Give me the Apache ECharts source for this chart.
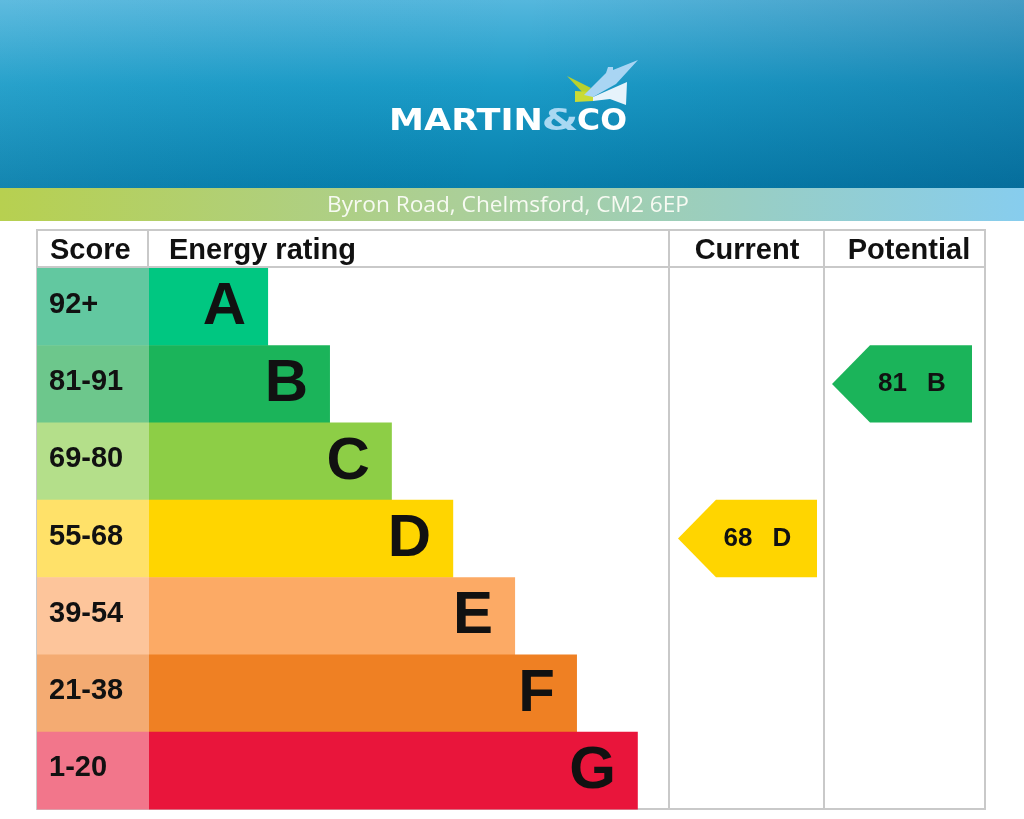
<!DOCTYPE html>
<html>
<head>
<meta charset="utf-8">
<script src="https://cdn.jsdelivr.net/npm/echarts@6/dist/echarts.min.js"></script>
<style>
html,body{margin:0;padding:0;background:#fff;}
#chart{width:1024px;height:819px;}
</style>
</head>
<body>
<div id="chart"></div>
<script>
// ---- data ----
const bands = ['A', 'B', 'C', 'D', 'E', 'F', 'G'];
const scoreRanges = ['92+', '81-91', '69-80', '55-68', '39-54', '21-38', '1-20'];
// bar length as % of the "Energy rating" column width
const barLengths = [22.9, 34.8, 46.7, 58.5, 70.4, 82.3, 94.0];
const barColors = ['#00c781', '#1bb45a', '#8dce46', '#ffd500', '#fcaa65', '#ef8023', '#e9153b'];
const scoreColors = ['#62c8a0', '#6dc78c', '#b4df8a', '#ffe169', '#fdc59b', '#f4ab72', '#f2768b'];
const headerLabels = ['Score', 'Energy rating', 'Current', 'Potential'];
const assessments = ['Current', 'Potential'];
const assessmentScores = [68, 81];
const assessmentBands = ['D', 'B'];
const title = 'Byron Road, Chelmsford, CM2 6EP';

// ---- layout ----
const TABLE = { left: 37, right: 985, top: 230, head: 267, bottom: 809 };
const COLS = { score: 148, current: 669, potential: 824 };
const ARROW_X = [[678, 817], [832, 972]];
const FONT = '"Liberation Sans", Arial, sans-serif';

const chart = echarts.init(document.getElementById('chart'));

const bandData = bands.map((b, i) => [barLengths[i], i]);
const arrowData = assessments.map((a, i) => [bands.indexOf(assessmentBands[i]), assessmentScores[i], i]);

const lineStyle = { stroke: '#c9c9c9', lineWidth: 2 };

const option = {
  animation: false,
  backgroundColor: '#ffffff',
  grid: { left: 149, top: 268, width: 520, height: 541, containLabel: false },
  xAxis: { type: 'value', min: 0, max: 100, show: false },
  yAxis: { type: 'category', data: bands, inverse: true, show: false },
  graphic: [
    // header background
    { type: 'rect', z: 0, shape: { x: 0, y: 0, width: 1024, height: 188 },
      style: { fill: new echarts.graphic.LinearGradient(0, 0, 0, 1, [
        { offset: 0, color: '#55b7dd' }, { offset: 0.45, color: '#1b9cc8' }, { offset: 1, color: '#077fac' }]) } },
    { type: 'rect', z: 0, shape: { x: 0, y: 0, width: 1024, height: 188 },
      style: { fill: new echarts.graphic.LinearGradient(0, 0, 1, 1, [
        { offset: 0, color: 'rgba(255,255,255,0.06)' }, { offset: 0.5, color: 'rgba(0,40,90,0)' }, { offset: 1, color: 'rgba(0,40,90,0.2)' }]) } },
    // subtitle band
    { type: 'rect', z: 0, shape: { x: 0, y: 188, width: 1024, height: 33 },
      style: { fill: new echarts.graphic.LinearGradient(0, 0, 1, 0, [
        { offset: 0, color: '#b7d050' }, { offset: 0.45, color: '#abcf98' }, { offset: 1, color: '#87cdee' }]) } },
    { type: 'text', z: 1, x: 508, y: 206, scaleX: 1.08, style: { x: 0, y: 0, text: title, fill: '#f7faf2', font: '21px "Open Sans", Lato, sans-serif', align: 'center', verticalAlign: 'middle' } },
    // logo icon
    { type: 'polygon', z: 1, shape: { points: [[567, 76], [591, 88], [585, 95]] }, style: { fill: '#b8d12c' } },
    { type: 'polygon', z: 1, shape: { points: [[575, 91], [593, 92], [593, 101], [575, 102]] }, style: { fill: '#c9db35' } },
    { type: 'polygon', z: 1, shape: { points: [[584, 95], [606, 73], [608, 67], [613, 67], [613, 70], [638, 60], [616, 84], [593, 97]] }, style: { fill: '#a9d5f3' } },
    { type: 'polygon', z: 1, shape: { points: [[593, 97], [627, 82], [626, 105], [610, 99], [593, 101]] }, style: { fill: '#e6f3fb' } },
    // logo text
    { type: 'text', z: 1, x: 466, y: 122, scaleX: 1.17, style: { x: 0, y: 0, text: 'MARTIN', fill: '#ffffff', font: 'bold 30px "DejaVu Sans", sans-serif', align: 'center', verticalAlign: 'middle' } },
    { type: 'text', z: 1, x: 560, y: 122, scaleX: 1.4, style: { x: 0, y: 0, text: '&', fill: '#a9d8f2', font: 'bold 30px "DejaVu Sans", sans-serif', align: 'center', verticalAlign: 'middle' } },
    { type: 'text', z: 1, x: 602, y: 122, scaleX: 1.05, style: { x: 0, y: 0, text: 'CO', fill: '#ffffff', font: 'bold 30px "DejaVu Sans", sans-serif', align: 'center', verticalAlign: 'middle' } },
    // table lines
    { type: 'rect', z: 0, shape: { x: TABLE.left, y: TABLE.top, width: TABLE.right - TABLE.left, height: TABLE.bottom - TABLE.top }, style: { fill: 'none', ...lineStyle } },
    { type: 'line', z: 0, shape: { x1: TABLE.left, y1: TABLE.head, x2: TABLE.right, y2: TABLE.head }, style: lineStyle },
    { type: 'line', z: 0, shape: { x1: COLS.score, y1: TABLE.top, x2: COLS.score, y2: TABLE.head }, style: lineStyle },
    { type: 'line', z: 0, shape: { x1: COLS.current, y1: TABLE.top, x2: COLS.current, y2: TABLE.bottom }, style: lineStyle },
    { type: 'line', z: 0, shape: { x1: COLS.potential, y1: TABLE.top, x2: COLS.potential, y2: TABLE.bottom }, style: lineStyle },
    // header labels
    { type: 'text', z: 1, style: { x: 50, y: 251, text: headerLabels[0], fill: '#111', font: 'bold 29px ' + FONT, verticalAlign: 'middle' } },
    { type: 'text', z: 1, style: { x: 169, y: 251, text: headerLabels[1], fill: '#111', font: 'bold 29px ' + FONT, verticalAlign: 'middle' } },
    { type: 'text', z: 1, style: { x: 747, y: 251, text: headerLabels[2], fill: '#111', font: 'bold 29px ' + FONT, align: 'center', verticalAlign: 'middle' } },
    { type: 'text', z: 1, style: { x: 909, y: 251, text: headerLabels[3], fill: '#111', font: 'bold 29px ' + FONT, align: 'center', verticalAlign: 'middle' } }
  ],
  series: [
    {
      type: 'custom',
      z: 3,
      data: bandData,
      encode: { x: 0, y: 1 },
      renderItem: function (params, api) {
        const idx = api.value(1);
        const end = api.coord([api.value(0), idx]);
        const start = api.coord([0, idx]);
        const h = api.size([0, 1])[1];
        const y0 = end[1] - h / 2;
        return {
          type: 'group',
          children: [
            { type: 'rect', shape: { x: TABLE.left, y: y0, width: start[0] - TABLE.left, height: h + 0.5 }, style: { fill: scoreColors[idx] } },
            { type: 'text', style: { x: 49, y: end[1] - 2, text: scoreRanges[idx], fill: '#111', font: 'bold 29px ' + FONT, verticalAlign: 'middle' } },
            { type: 'rect', shape: { x: start[0], y: y0, width: end[0] - start[0], height: h + 0.5 }, style: { fill: barColors[idx] } },
            { type: 'text', style: { x: end[0] - 22, y: end[1] + 1, text: bands[idx], fill: '#111', font: 'bold 60px ' + FONT, align: 'right', verticalAlign: 'middle' } }
          ]
        };
      }
    },
    {
      type: 'custom',
      z: 3,
      data: arrowData,
      encode: { y: 0 },
      renderItem: function (params, api) {
        const bandIdx = api.value(0);
        const score = api.value(1);
        const col = api.value(2);
        const c = api.coord([0, bandIdx]);
        const h = api.size([0, 1])[1];
        const y0 = c[1] - h / 2, y1 = c[1] + h / 2;
        const x0 = ARROW_X[col][0], x1 = ARROW_X[col][1];
        const tip = 38;
        const tc = (x0 + x1) / 2 + 10;
        return {
          type: 'group',
          children: [
            { type: 'polygon', shape: { points: [[x0 + tip, y0], [x1, y0], [x1, y1], [x0 + tip, y1], [x0, c[1]]] }, style: { fill: barColors[bandIdx] } },
            { type: 'text', style: { x: tc - 5, y: c[1], text: String(score), fill: '#111', font: 'bold 26px ' + FONT, align: 'right', verticalAlign: 'middle' } },
            { type: 'text', style: { x: tc + 15, y: c[1], text: bands[bandIdx], fill: '#111', font: 'bold 26px ' + FONT, align: 'left', verticalAlign: 'middle' } }
          ]
        };
      }
    }
  ]
};
chart.setOption(option);
</script>
</body>
</html>
